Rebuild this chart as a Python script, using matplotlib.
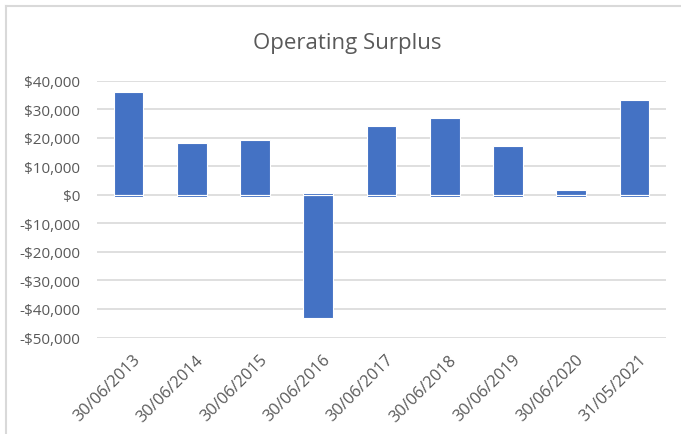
import matplotlib
matplotlib.use("Agg")
import matplotlib.pyplot as plt
from matplotlib.lines import Line2D
from matplotlib.ticker import FuncFormatter
from matplotlib.transforms import ScaledTranslation

categories = ["30/06/2013", "30/06/2014", "30/06/2015", "30/06/2016", "30/06/2017",
              "30/06/2018", "30/06/2019", "30/06/2020", "31/05/2021"]
surplus = [35800, 18000, 19100, -43200, 24100, 26800, 17000, 1600, 33100]
offset = [-900, -900, -900, 500, -900, -900, -900, -900, -900]
yticks = [40000, 30000, 20000, 10000, 0, -10000, -20000, -30000, -40000, -50000]

plt.rcParams['font.family'] = ['Open Sans', 'DejaVu Sans']
W, H = 681, 435
fig = plt.figure(figsize=(W / 100, H / 100), dpi=100)
ax = fig.add_axes([97 / W, 1 - 338.5 / H, (666 - 97) / W, (338.5 - 81.5) / H])

blue = "#4472C4"
x = list(range(len(categories)))
ax.bar(x, surplus, width=0.47, color=blue, edgecolor="white", linewidth=0.8, zorder=3)
ax.bar(x, offset, width=0.47, color=blue, edgecolor="white", linewidth=0.8, zorder=3)

ax.set_xlim(-0.5, len(categories) - 0.5)
ax.set_ylim(-50000, 40000)
ax.set_yticks(yticks)
ax.yaxis.set_major_formatter(FuncFormatter(lambda v, p: ("-$" if v < 0 else "$") + f"{abs(int(v)):,}"))
ax.grid(axis='y', color="#D9D9D9", linewidth=1.2, zorder=0)
ax.set_axisbelow(True)
for s in ax.spines.values():
    s.set_visible(False)
ax.tick_params(axis='both', length=0, colors="#595959")
ax.tick_params(axis='y', pad=12, labelsize=11)
ax.set_xticks(x)
ax.set_xticklabels(categories, rotation=45, ha='right', rotation_mode='anchor', fontsize=11.8)
ax.tick_params(axis='x', pad=10)
shift = ScaledTranslation(4 / 100, 0, fig.dpi_scale_trans)
for lab in ax.get_xticklabels():
    lab.set_transform(lab.get_transform() + shift)

fig.text(347 / W, 1 - 43 / H, "Operating Surplus", ha='center', va='center',
         fontsize=16, color="#595959")

fig.add_artist(Line2D([6 / W, 1], [1 - 7 / H, 1 - 7 / H], color="#D9D9D9", linewidth=1.5, transform=fig.transFigure))
fig.add_artist(Line2D([6 / W, 6 / W], [1 - 7 / H, 0], color="#D9D9D9", linewidth=1.5, transform=fig.transFigure))

fig.savefig("out.png", dpi=100)
